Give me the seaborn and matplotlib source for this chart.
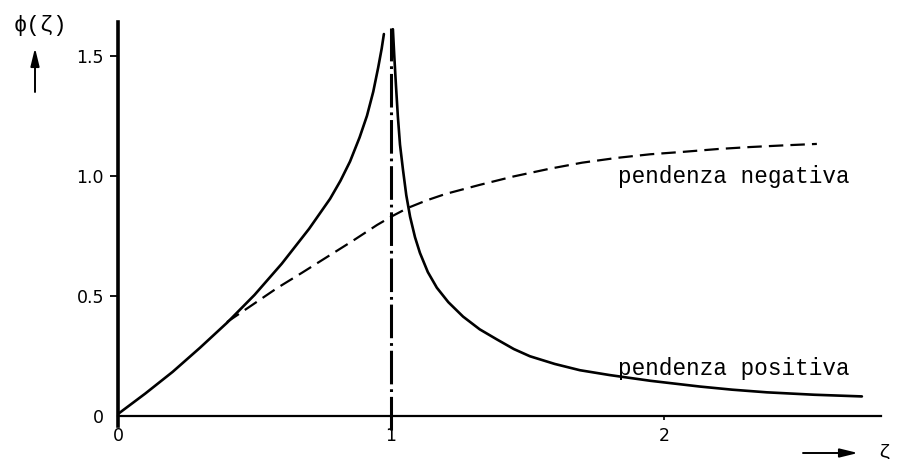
import matplotlib
matplotlib.use("Agg")
import matplotlib.pyplot as plt
import pandas as pd
import seaborn as sns

# phi(zeta) for positive slope, branch below the singularity (0 < zeta < 1)
zeta_pos_left = [0.0, 0.10, 0.20, 0.30, 0.40, 0.50, 0.60, 0.70, 0.777,
                 0.815, 0.850, 0.885, 0.912, 0.935, 0.953, 0.966, 0.974]
phi_pos_left = [0.01, 0.095, 0.185, 0.285, 0.39, 0.505, 0.635, 0.78, 0.905,
                0.98, 1.06, 1.16, 1.25, 1.35, 1.45, 1.53, 1.59]

# phi(zeta) for positive slope, branch above the singularity (zeta > 1)
zeta_pos_right = [1.007, 1.012, 1.018, 1.025, 1.033, 1.044, 1.056, 1.070,
                  1.088, 1.106, 1.135, 1.168, 1.21, 1.264, 1.325, 1.388,
                  1.45, 1.509, 1.60, 1.692, 1.80, 1.95, 2.132, 2.25, 2.377,
                  2.55, 2.725]
phi_pos_right = [1.61, 1.50, 1.38, 1.25, 1.13, 1.025, 0.92, 0.83,
                 0.745, 0.68, 0.60, 0.535, 0.475, 0.415, 0.362, 0.32,
                 0.28, 0.25, 0.218, 0.192, 0.172, 0.148, 0.124, 0.111, 0.100,
                 0.090, 0.083]

# phi(zeta) for negative slope
zeta_neg = [0.399, 0.49, 0.582, 0.675, 0.766, 0.86, 0.949, 1.005, 1.062,
            1.13, 1.2, 1.326, 1.45, 1.582, 1.70, 1.828, 1.95, 2.07, 2.2,
            2.315, 2.44, 2.56]
phi_neg = [0.392, 0.462, 0.533, 0.598, 0.663, 0.73, 0.796, 0.833, 0.867,
           0.898, 0.925, 0.963, 0.998, 1.03, 1.055, 1.075, 1.09, 1.10, 1.112,
           1.12, 1.127, 1.133]

# singular abscissa zeta = 1
zeta_sing = [1.0, 1.0]
phi_sing = [-0.058, 1.617]

x_ticks = [0, 1, 2]
x_tick_labels = ["0", "1", "2"]
y_ticks = [0, 0.5, 1.0, 1.5]
y_tick_labels = ["0", "0.5", "1.0", "1.5"]

sns.set_theme(style="white")
plt.rcParams["font.family"] = ["DejaVu Sans"]
mono = ["Liberation Mono", "DejaVu Sans Mono"]

W, H = 900, 459
fig = plt.figure(figsize=(W / 100, H / 100), dpi=100)
ax = fig.add_axes([118 / W, 33 / H, 763 / W, 404 / H])

left_df = pd.DataFrame({"zeta": zeta_pos_left, "phi": phi_pos_left})
right_df = pd.DataFrame({"zeta": zeta_pos_right, "phi": phi_pos_right})
neg_df = pd.DataFrame({"zeta": zeta_neg, "phi": phi_neg})
sing_df = pd.DataFrame({"zeta": zeta_sing, "phi": phi_sing})

sns.lineplot(data=left_df, x="zeta", y="phi", ax=ax, color="black",
             linewidth=1.9, sort=False, estimator=None)
sns.lineplot(data=right_df, x="zeta", y="phi", ax=ax, color="black",
             linewidth=1.9, sort=False, estimator=None)
sns.lineplot(data=neg_df, x="zeta", y="phi", ax=ax, color="black",
             linewidth=1.6, sort=False, estimator=None)
ax.lines[-1].set_dashes([6.5, 3.2])
sns.lineplot(data=sing_df, x="zeta", y="phi", ax=ax, color="black",
             linewidth=2.2, sort=False, estimator=None)
ax.lines[-1].set_dashes([11, 1.6, 0.9, 1.6])
ax.lines[-1].set_clip_on(False)

ax.set_xlim(0, 2.795)
ax.set_ylim(-0.04, 1.64)
ax.set_xlabel("")
ax.set_ylabel("")

sns.despine(ax=ax)
ax.spines["left"].set_linewidth(2.6)
ax.spines["left"].set_color("black")
ax.spines["bottom"].set_position(("data", 0))
ax.spines["bottom"].set_linewidth(1.6)
ax.spines["bottom"].set_color("black")

ax.set_xticks(x_ticks)
ax.set_xticklabels(x_tick_labels)
ax.set_yticks(y_ticks)
ax.set_yticklabels(y_tick_labels)
ax.tick_params(axis="y", left=True, direction="out", length=6, width=1.3,
               pad=4, labelsize=12.5, colors="black")
ax.tick_params(axis="x", bottom=True, direction="out", length=3, width=1.2,
               pad=5, labelsize=12.5, colors="black")
ax.yaxis.get_major_ticks()[0].tick1line.set_visible(False)
ax.xaxis.get_major_ticks()[0].tick1line.set_visible(False)

ax.text(1.832, 0.971, "pendenza negativa", family=mono, fontsize=16.3,
        color="black", va="baseline", ha="left")
ax.text(1.832, 0.171, "pendenza positiva", family=mono, fontsize=16.3,
        color="black", va="baseline", ha="left")

# axis names with their arrows, placed in figure pixels
fig.text(40 / W, 1 - 25 / H, "ϕ(ζ)", family=mono, fontsize=16,
         color="black", ha="center", va="center")
fig.text(884 / W, 1 - 452 / H, "ζ", family=mono, fontsize=14,
         color="black", ha="center", va="center")
arrow = dict(arrowstyle="-|>,head_length=0.9,head_width=0.22",
             color="black", lw=1.4, shrinkA=0, shrinkB=0)
ax.annotate("", xy=(35, H - 48), xycoords="figure pixels",
            xytext=(35, H - 92), textcoords="figure pixels",
            arrowprops=arrow, annotation_clip=False)
ax.annotate("", xy=(858, H - 453), xycoords="figure pixels",
            xytext=(803, H - 453), textcoords="figure pixels",
            arrowprops=arrow, annotation_clip=False)

fig.savefig("out.png", dpi=100, facecolor="white")
